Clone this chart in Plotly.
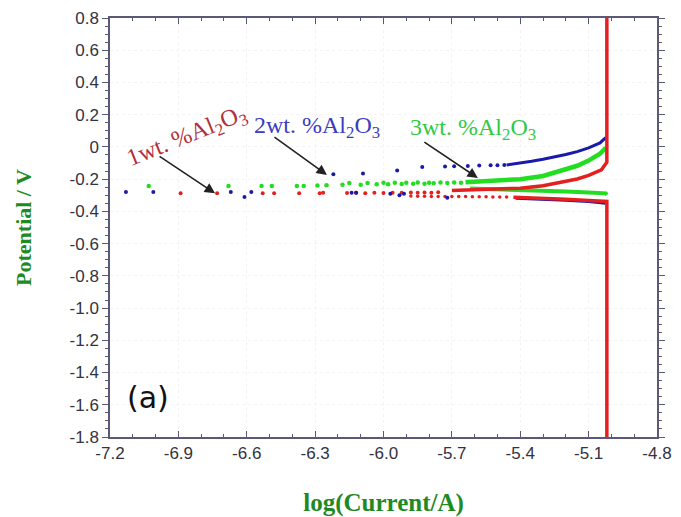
import plotly.graph_objects as go

# ---------------- data ----------------
x_ticks = [-7.2, -6.9, -6.6, -6.3, -6.0, -5.7, -5.4, -5.1, -4.8]
x_tick_labels = ["-7.2", "-6.9", "-6.6", "-6.3", "-6.0", "-5.7", "-5.4", "-5.1", "-4.8"]
y_ticks = [0.8, 0.6, 0.4, 0.2, 0.0, -0.2, -0.4, -0.6, -0.8, -1.0, -1.2, -1.4, -1.6, -1.8]
y_tick_labels = ["0.8", "0.6", "0.4", "0.2", "0", "-0.2", "-0.4", "-0.6", "-0.8",
                 "-1.0", "-1.2", "-1.4", "-1.6", "-1.8"]

# 2 wt.% Al2O3 (blue)
blue_scatter_x = [-7.13, -7.01, -6.67, -6.61, -6.58, -6.22, -6.14, -6.12, -6.09, -5.97,
                  -5.94, -5.93, -5.91, -5.83, -5.73, -5.72, -5.69, -5.63, -5.58, -5.53,
                  -5.50, -5.47]
blue_scatter_y = [-0.28, -0.28, -0.28, -0.31, -0.28, -0.17, -0.285, -0.285, -0.165, -0.29,
                  -0.147, -0.30, -0.29, -0.125, -0.122, -0.315, -0.12, -0.118, -0.116, -0.114,
                  -0.113, -0.112]
blue_anodic_x = [-5.46, -5.40, -5.35, -5.30, -5.25, -5.20, -5.15, -5.10, -5.05, -5.025]
blue_anodic_y = [-0.112, -0.101, -0.089, -0.077, -0.063, -0.047, -0.029, -0.006, 0.025, 0.058]
blue_cathodic_x = [-5.42, -5.30, -5.20, -5.10, -5.025]
blue_cathodic_y = [-0.318, -0.324, -0.331, -0.339, -0.35]

# 3 wt.% Al2O3 (green)
green_scatter_x = [-7.03, -6.68, -6.535, -6.49, -6.38, -6.35, -6.29, -6.25, -6.18, -6.15,
                   -6.10, -6.07, -6.03, -6.00, -5.98, -5.95, -5.92, -5.90, -5.87, -5.85,
                   -5.82, -5.80, -5.78, -5.75, -5.72, -5.69, -5.66]
green_scatter_y = [-0.242, -0.242, -0.242, -0.242, -0.242, -0.242, -0.240, -0.238, -0.235, -0.224,
                   -0.234, -0.224, -0.232, -0.223, -0.231, -0.222, -0.230, -0.222, -0.229, -0.221,
                   -0.228, -0.222, -0.226, -0.221, -0.224, -0.220, -0.222]
green_anodic_x = [-5.64, -5.55, -5.45, -5.40, -5.30, -5.20, -5.15, -5.10, -5.05, -5.025]
green_anodic_y = [-0.219, -0.214, -0.206, -0.200, -0.180, -0.142, -0.117, -0.085, -0.042, -0.005]
green_cathodic_x = [-5.62, -5.50, -5.40, -5.30, -5.20, -5.10, -5.025, -5.02]
green_cathodic_y = [-0.258, -0.262, -0.267, -0.272, -0.277, -0.283, -0.288, -0.298]

# 1 wt.% Al2O3 (red)
red_scatter_x = [-6.89, -6.73, -6.53, -6.48, -6.37, -6.28, -6.265, -6.16, -6.12, -6.08,
                 -6.04, -6.00, -5.96, -5.92, -5.88, -5.85, -5.82, -5.79, -5.76]
red_scatter_y = [-0.288, -0.288, -0.288, -0.288, -0.288, -0.288, -0.285, -0.286, -0.284, -0.287,
                 -0.284, -0.286, -0.284, -0.285, -0.283, -0.285, -0.283, -0.284, -0.282]
red_lower_x = [-5.88, -5.85, -5.82, -5.79, -5.76, -5.73, -5.70, -5.67, -5.64, -5.61,
               -5.58, -5.55, -5.52, -5.49, -5.46]
red_lower_y = [-0.305, -0.306, -0.306, -0.307, -0.307, -0.307, -0.308, -0.308, -0.308, -0.309,
               -0.309, -0.309, -0.310, -0.310, -0.310]
red_anodic_x = [-5.70, -5.60, -5.50, -5.40, -5.30, -5.20, -5.15, -5.10, -5.07, -5.044, -5.02, -5.02]
red_anodic_y = [-0.270, -0.266, -0.262, -0.256, -0.241, -0.216, -0.199, -0.176, -0.157, -0.142, -0.095, 0.8]
red_cathodic_x = [-5.43, -5.30, -5.20, -5.10, -5.02, -5.02]
red_cathodic_y = [-0.312, -0.318, -0.325, -0.333, -0.338, -1.8]

# ---------------- colours ----------------
BLUE = "#1a1aa8"
GREEN = "#22dd22"
RED = "#e3201f"
AXIS = "#5a5a78"
TITLE_GREEN = "#1f8a1f"

fig = go.Figure()

# scattered points
fig.add_trace(go.Scatter(x=green_scatter_x, y=green_scatter_y, mode="markers",
                         marker=dict(color=GREEN, size=4.5), showlegend=False))
fig.add_trace(go.Scatter(x=red_scatter_x, y=red_scatter_y, mode="markers",
                         marker=dict(color=RED, size=4), showlegend=False))
fig.add_trace(go.Scatter(x=red_lower_x, y=red_lower_y, mode="markers",
                         marker=dict(color=RED, size=3.5), showlegend=False))
fig.add_trace(go.Scatter(x=blue_scatter_x, y=blue_scatter_y, mode="markers",
                         marker=dict(color=BLUE, size=4), showlegend=False))

# curves
fig.add_trace(go.Scatter(x=blue_cathodic_x, y=blue_cathodic_y, mode="lines",
                         line=dict(color=BLUE, width=3), showlegend=False))
fig.add_trace(go.Scatter(x=red_cathodic_x, y=red_cathodic_y, mode="lines",
                         line=dict(color=RED, width=3.5), showlegend=False))
fig.add_trace(go.Scatter(x=green_cathodic_x, y=green_cathodic_y, mode="lines",
                         line=dict(color=GREEN, width=4), showlegend=False))
fig.add_trace(go.Scatter(x=blue_anodic_x, y=blue_anodic_y, mode="lines",
                         line=dict(color=BLUE, width=3), showlegend=False))
fig.add_trace(go.Scatter(x=green_anodic_x, y=green_anodic_y, mode="lines",
                         line=dict(color=GREEN, width=4.5), showlegend=False))
fig.add_trace(go.Scatter(x=red_anodic_x, y=red_anodic_y, mode="lines",
                         line=dict(color=RED, width=3.5), showlegend=False))

serif = "Liberation Serif, Times New Roman, serif"

annotations = [
    # labels
    dict(x=-6.862, y=0.062, text="1wt. %Al<sub>2</sub>O<sub>3</sub>", textangle=-22,
         showarrow=False, font=dict(family=serif, size=24, color="#b0303a")),
    dict(x=-6.292, y=0.124, text="2wt. %Al<sub>2</sub>O<sub>3</sub>",
         showarrow=False, font=dict(family=serif, size=24, color="#3c3cc0")),
    dict(x=-5.608, y=0.111, text="3wt. %Al<sub>2</sub>O<sub>3</sub>",
         showarrow=False, font=dict(family=serif, size=24, color="#33c844")),
    # arrows
    dict(x=-6.739, y=-0.288, ax=-57, ay=-38, text="", showarrow=True,
         arrowhead=2, arrowsize=1.3, arrowwidth=1.6, arrowcolor="#222222"),
    dict(x=-6.248, y=-0.174, ax=-54, ay=-39, text="", showarrow=True,
         arrowhead=2, arrowsize=1.3, arrowwidth=1.6, arrowcolor="#222222"),
    dict(x=-5.586, y=-0.193, ax=-55, ay=-37, text="", showarrow=True,
         arrowhead=2, arrowsize=1.3, arrowwidth=1.6, arrowcolor="#222222"),
    # panel label
    dict(x=-7.033, y=-1.557, text="(a)", showarrow=False,
         font=dict(family="DejaVu Sans", size=30, color="#111111")),
]

fig.update_layout(
    width=681, height=517,
    margin=dict(l=110, r=24, t=18, b=80),
    paper_bgcolor="white", plot_bgcolor="white",
    showlegend=False,
    annotations=annotations,
    xaxis=dict(
        range=[-7.2, -4.8], tickvals=x_ticks, ticktext=x_tick_labels,
        ticks="inside", ticklen=6, tickwidth=1, tickcolor=AXIS,
        minor=dict(dtick=0.1, ticks="inside", ticklen=3, tickcolor=AXIS, showgrid=False),
        showline=True, linecolor=AXIS, linewidth=1.5, mirror="ticks",
        showgrid=True, gridcolor="#f3f3f6", griddash="dot", zeroline=False,
        automargin=False,
        tickfont=dict(family="Liberation Sans, Arial, sans-serif", size=17, color="#333340"),
        title=dict(text="<b>log(Current/A)</b>", standoff=32,
                   font=dict(family=serif, size=25, color=TITLE_GREEN)),
    ),
    yaxis=dict(
        range=[-1.8, 0.8], tickvals=y_ticks, ticktext=y_tick_labels,
        ticks="outside", ticklen=6, tickwidth=1, tickcolor=AXIS,
        minor=dict(dtick=0.05, ticks="outside", ticklen=3, tickcolor=AXIS, showgrid=False),
        showline=True, linecolor=AXIS, linewidth=1.5, mirror="ticks",
        showgrid=True, gridcolor="#f3f3f6", griddash="dot", zeroline=False,
        automargin=False,
        tickfont=dict(family="Liberation Sans, Arial, sans-serif", size=17, color="#333340"),
        title=dict(text="<b>Potential / V</b>", standoff=32,
                   font=dict(family=serif, size=22, color=TITLE_GREEN)),
    ),
)

fig.write_html("out.html", config={"displayModeBar": False},
               post_script="document.body.style.margin='0';document.body.style.overflow='hidden';")
